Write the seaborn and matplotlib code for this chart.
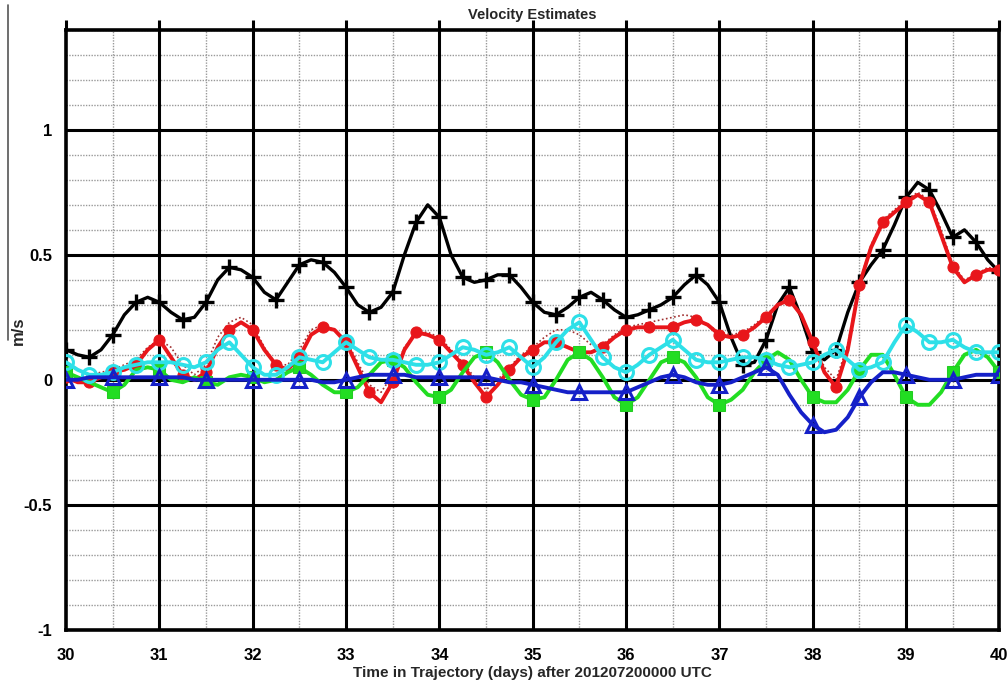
import numpy as np
import pandas as pd
import matplotlib
matplotlib.use('Agg')
import matplotlib.pyplot as plt
from matplotlib.lines import Line2D
import seaborn as sns

# time axis: 30 .. 40 days, every 3 hours
days = np.linspace(30, 40, 81)

black = [0.12, 0.10, 0.09, 0.12, 0.18, 0.26, 0.31, 0.33, 0.31, 0.27,
         0.24, 0.25, 0.31, 0.40, 0.45, 0.44, 0.41, 0.35, 0.32, 0.39,
         0.46, 0.48, 0.47, 0.43, 0.37, 0.30, 0.27, 0.29, 0.35, 0.50,
         0.63, 0.70, 0.65, 0.50, 0.41, 0.39, 0.40, 0.42, 0.42, 0.37,
         0.31, 0.27, 0.26, 0.29, 0.33, 0.35, 0.32, 0.28, 0.25, 0.26,
         0.28, 0.30, 0.33, 0.38, 0.42, 0.38, 0.31, 0.17, 0.06, 0.07,
         0.16, 0.30, 0.37, 0.25, 0.11, 0.08, 0.12, 0.27, 0.39, 0.46,
         0.52, 0.62, 0.73, 0.79, 0.76, 0.67, 0.57, 0.60, 0.55, 0.48,
         0.43]

red = [0.01, -0.01, -0.01, 0.01, 0.03, 0.04, 0.06, 0.12, 0.16, 0.09,
       0.02, 0.00, 0.03, 0.13, 0.20, 0.23, 0.20, 0.12, 0.06, 0.04,
       0.09, 0.18, 0.21, 0.20, 0.15, 0.05, -0.05, -0.09, -0.01, 0.12,
       0.19, 0.18, 0.16, 0.11, 0.06, -0.01, -0.07, -0.02, 0.04, 0.09,
       0.12, 0.15, 0.15, 0.13, 0.11, 0.11, 0.13, 0.17, 0.20, 0.21,
       0.21, 0.21, 0.21, 0.23, 0.24, 0.22, 0.18, 0.17, 0.18, 0.21,
       0.25, 0.30, 0.32, 0.26, 0.15, 0.03, -0.03, 0.12, 0.38, 0.53,
       0.63, 0.67, 0.71, 0.74, 0.71, 0.58, 0.45, 0.39, 0.42, 0.44,
       0.44]

red_dotted = [0.02, 0.01, 0.02, 0.03, 0.04, 0.06, 0.08, 0.13, 0.16, 0.13,
              0.06, 0.02, 0.06, 0.17, 0.23, 0.25, 0.22, 0.13, 0.06, 0.06,
              0.12, 0.20, 0.22, 0.20, 0.16, 0.07, -0.02, -0.05, 0.02, 0.13,
              0.19, 0.19, 0.17, 0.12, 0.07, 0.01, -0.04, 0.00, 0.05, 0.10,
              0.13, 0.17, 0.20, 0.20, 0.18, 0.14, 0.14, 0.18, 0.21, 0.22,
              0.23, 0.24, 0.25, 0.26, 0.25, 0.22, 0.19, 0.18, 0.19, 0.22,
              0.26, 0.30, 0.32, 0.26, 0.16, 0.05, 0.00, 0.14, 0.39, 0.54,
              0.64, 0.68, 0.72, 0.75, 0.72, 0.60, 0.46, 0.40, 0.42, 0.45,
              0.44]

cyan = [0.07, 0.04, 0.02, 0.02, 0.03, 0.05, 0.06, 0.07, 0.07, 0.07,
        0.06, 0.05, 0.07, 0.12, 0.15, 0.10, 0.05, 0.02, 0.02, 0.05,
        0.09, 0.08, 0.07, 0.11, 0.15, 0.12, 0.09, 0.08, 0.08, 0.07,
        0.06, 0.06, 0.07, 0.10, 0.13, 0.12, 0.10, 0.11, 0.13, 0.09,
        0.05, 0.09, 0.15, 0.20, 0.23, 0.16, 0.09, 0.05, 0.03, 0.06,
        0.10, 0.13, 0.16, 0.12, 0.08, 0.07, 0.07, 0.08, 0.09, 0.09,
        0.08, 0.06, 0.05, 0.06, 0.07, 0.10, 0.12, 0.08, 0.04, 0.05,
        0.07, 0.15, 0.22, 0.19, 0.15, 0.15, 0.16, 0.13, 0.11, 0.11,
        0.11]

green = [0.03, 0.01, -0.01, -0.03, -0.05, -0.02, 0.04, 0.05, 0.04, 0.00,
         -0.01, 0.01, -0.01, -0.02, 0.01, 0.02, 0.01, -0.01, 0.00, 0.03,
         0.05, 0.02, -0.02, -0.05, -0.05, -0.03, 0.02, 0.07, 0.08, 0.05,
         -0.01, -0.06, -0.07, -0.04, 0.03, 0.09, 0.11, 0.07, 0.00, -0.06,
         -0.08, -0.07, 0.00, 0.08, 0.11, 0.08, 0.01, -0.07, -0.10, -0.07,
         0.00, 0.07, 0.09, 0.07, 0.01, -0.07, -0.10, -0.08, -0.04, 0.03,
         0.08, 0.11, 0.08, 0.00, -0.07, -0.09, -0.09, -0.04, 0.04, 0.10,
         0.10, 0.02, -0.07, -0.10, -0.10, -0.05, 0.03, 0.10, 0.12, 0.09,
         0.03]

blue = [0.00, 0.00, 0.01, 0.01, 0.01, 0.01, 0.01, 0.01, 0.01, 0.01,
        0.01, 0.00, 0.00, 0.00, 0.00, 0.00, 0.00, 0.00, 0.00, 0.00,
        0.00, 0.00, -0.01, -0.01, 0.00, 0.01, 0.02, 0.02, 0.02, 0.02,
        0.01, 0.01, 0.01, 0.01, 0.01, 0.01, 0.01, 0.00, -0.01, -0.01,
        -0.02, -0.03, -0.04, -0.05, -0.05, -0.05, -0.05, -0.05, -0.05, -0.03,
        -0.01, 0.01, 0.02, 0.01, -0.01, -0.02, -0.02, -0.01, 0.01, 0.03,
        0.05, 0.02, -0.06, -0.13, -0.18, -0.21, -0.20, -0.15, -0.07, -0.01,
        0.03, 0.03, 0.02, 0.01, 0.00, 0.00, 0.00, 0.01, 0.02, 0.02,
        0.02]

x_ticks = [30, 31, 32, 33, 34, 35, 36, 37, 38, 39, 40]
y_ticks = [-1, -0.5, 0, 0.5, 1]
y_tick_labels = ['-1', '-0.5', '0', '0.5', '1']


def main():
    sns.set_style('white')
    plt.rcParams['font.family'] = ['Liberation Sans', 'DejaVu Sans']
    plt.rcParams['font.weight'] = 'bold'

    fig = plt.figure(figsize=(10.08, 6.8), dpi=100)
    ax = fig.add_axes([0.0655, 0.074, 0.926, 0.882])

    # background grid
    for v in np.arange(-0.9, 1.41, 0.1):
        ax.axhline(v, color='#999999', lw=1.0, ls=(0, (1, 1)), zorder=0)
    for v in np.arange(30.5, 40, 1.0):
        ax.axvline(v, color='#999999', lw=1.0, ls=(0, (1, 1)), zorder=0)
    for v in [-0.5, 0, 0.5, 1]:
        ax.axhline(v, color='black', lw=2.2, zorder=1)
    for v in range(31, 40):
        ax.axvline(v, color='black', lw=2.2, zorder=1)

    sns.lineplot(x=days, y=black, ax=ax, color='black', lw=2.4,
                 marker='+', markersize=12, markeredgewidth=2.4,
                 markeredgecolor='black', markevery=2, zorder=3)
    sns.lineplot(x=days, y=red_dotted, ax=ax, color='#a03030', lw=1.2,
                 ls=(0, (1, 1.5)), zorder=3)
    sns.lineplot(x=days, y=red, ax=ax, color='#e8161b', lw=2.8,
                 marker='o', markersize=8, markeredgecolor='#e8161b',
                 markevery=2, zorder=4)
    sns.lineplot(x=days, y=green, ax=ax, color='#22dd22', lw=2.8,
                 marker='s', markersize=8, markeredgecolor='#22cc22',
                 markevery=4, zorder=4)
    sns.lineplot(x=days, y=cyan, ax=ax, color='#2ee0e8', lw=2.8,
                 marker='o', markersize=10, markerfacecolor='none',
                 markeredgecolor='#2ee0e8', markeredgewidth=2.2,
                 markevery=2, zorder=5)
    sns.lineplot(x=days, y=blue, ax=ax, color='#1520c8', lw=2.8,
                 marker='^', markersize=10, markerfacecolor='none',
                 markeredgecolor='#1520c8', markeredgewidth=2.2,
                 markevery=4, zorder=6)

    ax.set_xlim(30, 40)
    ax.set_ylim(-1, 1.4)
    ax.set_xticks(x_ticks)
    ax.set_yticks(y_ticks)
    ax.set_yticklabels(y_tick_labels)
    ax.tick_params(axis='both', direction='out', length=7, width=2.2,
                   labelsize=12, colors='black', pad=3)
    ax.tick_params(axis='x', top=True, pad=6)
    for s in ax.spines.values():
        s.set_linewidth(2.6)
        s.set_color('black')

    ax.set_xlabel('Time in Trajectory (days) after 201207200000 UTC',
                  fontsize=11, fontweight='bold', labelpad=2)
    ax.set_title('Velocity Estimates', fontsize=10.5, fontweight='bold',
                 pad=8)
    fig.text(0.018, 0.513, 'm/s', rotation=90, fontsize=12,
             fontweight='bold', ha='center', va='center')
    fig.add_artist(Line2D([0.008, 0.008], [0.5, 0.993],
                          transform=fig.transFigure, color='#555555',
                          lw=1.2))

    fig.savefig('out.png', dpi=100)


if __name__ == '__main__':
    main()
